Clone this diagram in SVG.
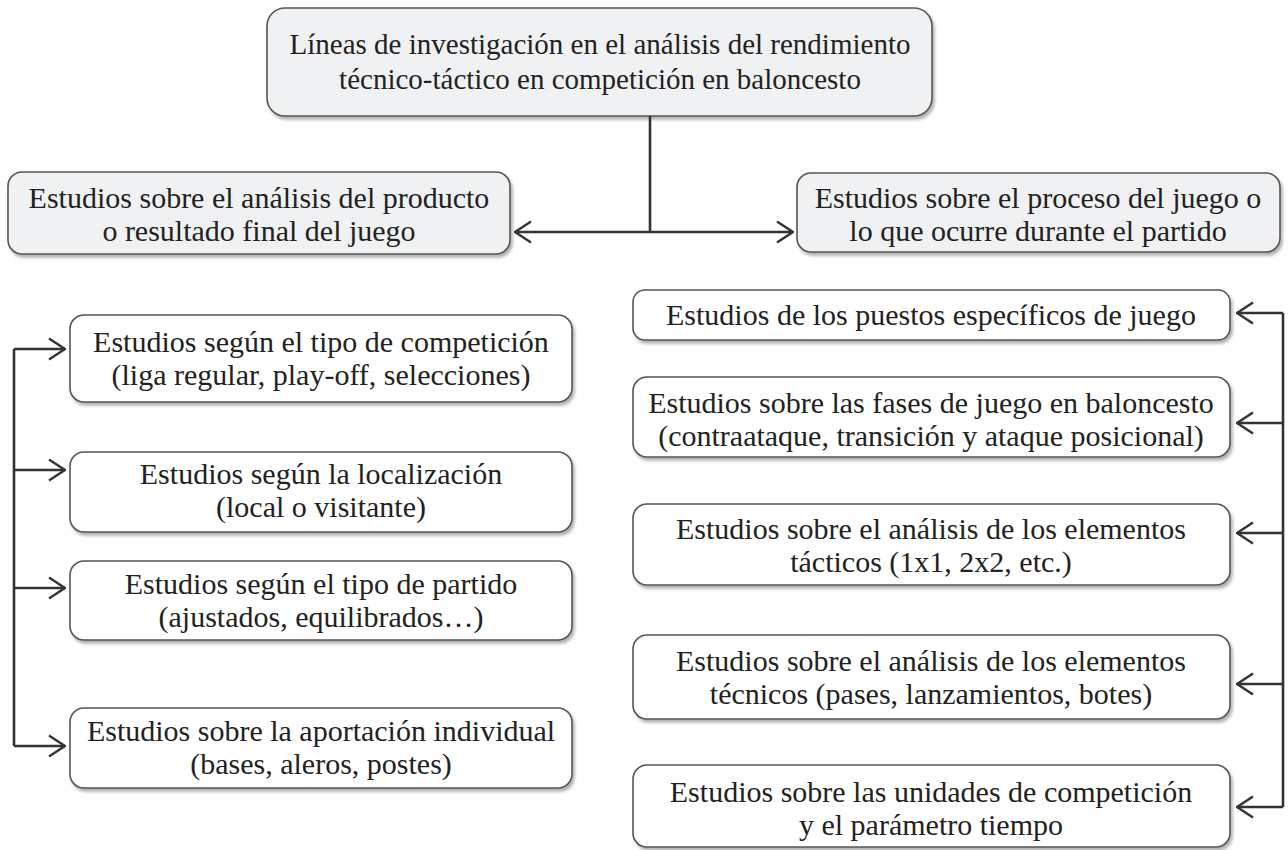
<svg xmlns="http://www.w3.org/2000/svg" width="1288" height="850" viewBox="0 0 1288 850">
<defs>
<filter id="sh" x="-5%" y="-10%" width="110%" height="130%">
<feDropShadow dx="2" dy="3" stdDeviation="1.5" flood-color="#000" flood-opacity="0.3"/>
</filter>
<marker id="ah" viewBox="0 0 18 24" refX="17" refY="12" markerWidth="18" markerHeight="24" markerUnits="userSpaceOnUse" orient="auto-start-reverse">
<path d="M1 1.5 L17 12 L1 22.5" fill="none" stroke="#333" stroke-width="2.4"/>
</marker>
<style>
.b{fill:#fff;stroke:#555;stroke-width:1.6;filter:url(#sh)}
.g{fill:#f0f1f3}
.t{font-family:"Liberation Serif","Times New Roman",serif;font-size:30px;fill:#222;text-anchor:middle}
.s{font-size:29px}
.c{fill:none;stroke:#333;stroke-width:2.6}
</style>
</defs>
<g id="top"><rect class="b g" x="267" y="8" width="665" height="108" rx="18"/>
<text class="t s" x="600" y="54">Líneas de investigación en el análisis del rendimiento</text>
<text class="t s" x="600" y="89">técnico-táctico en competición en baloncesto</text></g>
<g id="producto"><rect class="b g" x="8" y="172" width="502" height="82" rx="14"/>
<text class="t" x="259" y="208">Estudios sobre el análisis del producto</text>
<text class="t" x="259" y="241">o resultado final del juego</text></g>
<g id="proceso"><rect class="b g" x="797" y="173" width="483" height="79" rx="14"/>
<text class="t" x="1038" y="208">Estudios sobre el proceso del juego o</text>
<text class="t" x="1038" y="241">lo que ocurre durante el partido</text></g>
<g id="l1"><rect class="b" x="70" y="315" width="502" height="87" rx="14"/>
<text class="t" x="321" y="352">Estudios según el tipo de competición</text>
<text class="t" x="321" y="385">(liga regular, play-off, selecciones)</text></g>
<g id="l2"><rect class="b" x="70" y="452" width="502" height="80" rx="14"/>
<text class="t" x="321" y="484">Estudios según la localización</text>
<text class="t" x="321" y="517">(local o visitante)</text></g>
<g id="l3"><rect class="b" x="70" y="561" width="502" height="79" rx="14"/>
<text class="t" x="321" y="594">Estudios según el tipo de partido</text>
<text class="t" x="321" y="627">(ajustados, equilibrados…)</text></g>
<g id="l4"><rect class="b" x="70" y="708" width="502" height="80" rx="14"/>
<text class="t" x="321" y="741">Estudios sobre la aportación individual</text>
<text class="t" x="321" y="774">(bases, aleros, postes)</text></g>
<g id="r1"><rect class="b" x="633" y="290" width="597" height="50" rx="12"/>
<text class="t" x="931" y="325">Estudios de los puestos específicos de juego</text></g>
<g id="r2"><rect class="b" x="633" y="377" width="597" height="80" rx="14"/>
<text class="t" x="931" y="413">Estudios sobre las fases de juego en baloncesto</text>
<text class="t" x="931" y="446">(contraataque, transición y ataque posicional)</text></g>
<g id="r3"><rect class="b" x="633" y="504" width="597" height="81" rx="14"/>
<text class="t" x="931" y="539">Estudios sobre el análisis de los elementos</text>
<text class="t" x="931" y="572">tácticos (1x1, 2x2, etc.)</text></g>
<g id="r4"><rect class="b" x="633" y="635" width="597" height="84" rx="14"/>
<text class="t" x="931" y="671">Estudios sobre el análisis de los elementos</text>
<text class="t" x="931" y="704">técnicos (pases, lanzamientos, botes)</text></g>
<g id="r5"><rect class="b" x="633" y="765" width="597" height="82" rx="14"/>
<text class="t" x="931" y="802">Estudios sobre las unidades de competición</text>
<text class="t" x="931" y="835">y el parámetro tiempo</text></g>
<g id="connectors">
<path class="c" d="M650 116 V232"/>
<path class="c" d="M515 232 H793" marker-start="url(#ah)" marker-end="url(#ah)"/>
<path class="c" d="M14 349 V746"/>
<path class="c" d="M14 349 H65" marker-end="url(#ah)"/>
<path class="c" d="M14 470 H65" marker-end="url(#ah)"/>
<path class="c" d="M14 588 H65" marker-end="url(#ah)"/>
<path class="c" d="M14 746 H65" marker-end="url(#ah)"/>
<path class="c" d="M1283 313 V807"/>
<path class="c" d="M1283 313 H1237" marker-end="url(#ah)"/>
<path class="c" d="M1283 423 H1237" marker-end="url(#ah)"/>
<path class="c" d="M1283 533 H1237" marker-end="url(#ah)"/>
<path class="c" d="M1283 684 H1237" marker-end="url(#ah)"/>
<path class="c" d="M1283 807 H1237" marker-end="url(#ah)"/>
</g>
</svg>
